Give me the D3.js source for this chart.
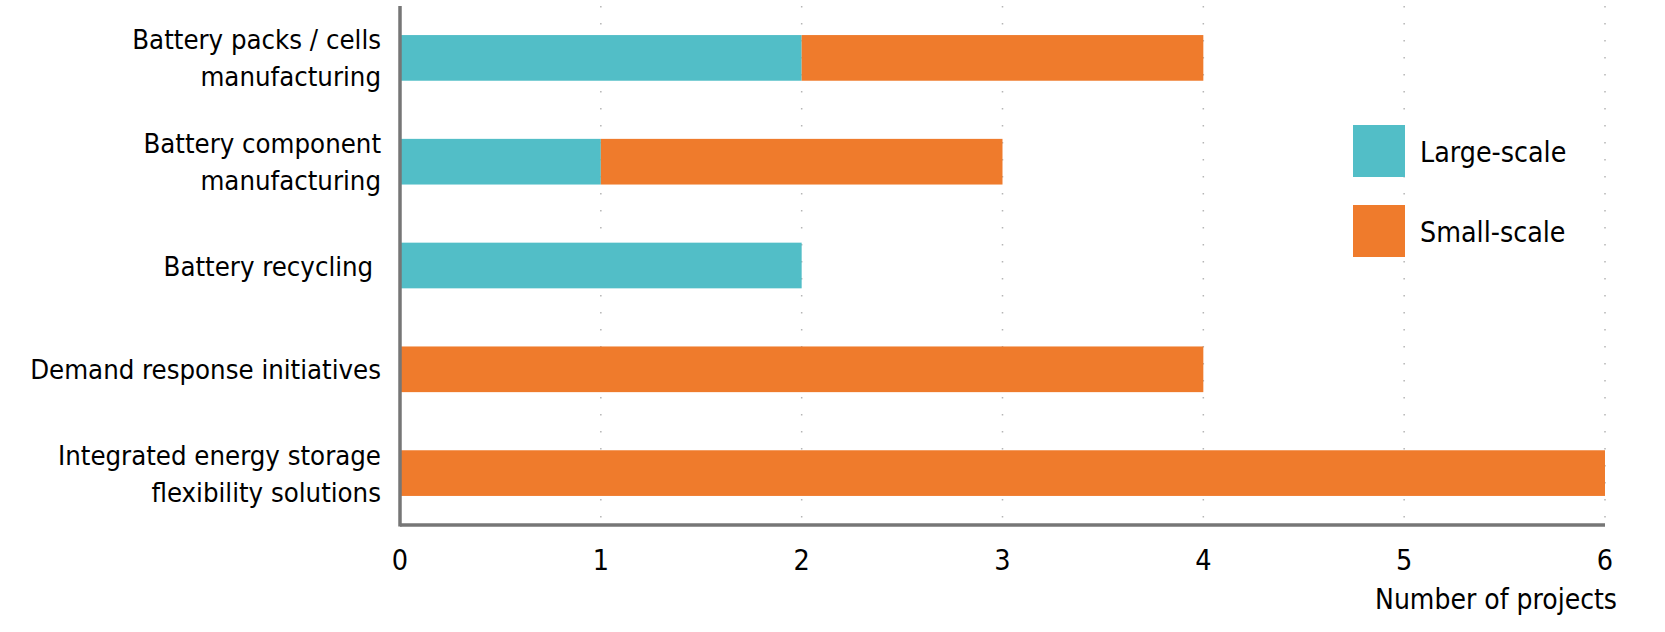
<!DOCTYPE html>
<html>
<head>
<meta charset="utf-8">
<title>Projects by type</title>
<script src="https://d3js.org/d3.v7.min.js"></script>
<style>
  body { margin: 0; background: #fff; }
  svg text { font-family: "DejaVu Sans Condensed", "DejaVu Sans", sans-serif; font-stretch: condensed; fill: #000; }
</style>
</head>
<body>
<svg width="1665" height="632"></svg>
<script>
// data
const categories = [
  ["Battery packs / cells", "manufacturing"],
  ["Battery component", "manufacturing"],
  ["Battery recycling "],
  ["Demand response initiatives"],
  ["Integrated energy storage", "flexibility solutions"]
];
const seriesNames = ["Large-scale", "Small-scale"];
const largeScale = [2, 1, 2, 0, 0];
const smallScale = [2, 2, 0, 4, 6];
const xTicks = [0, 1, 2, 3, 4, 5, 6];
const colors = ["#52bec7", "#ef7b2c"];

const svg = d3.select("svg");
const mLeft = 400, mRight = 1605, mTop = 6, mBottom = 525;

const x = d3.scaleLinear().domain([0, 6]).range([mLeft, mRight]);
const y = d3.scaleBand()
  .domain(d3.range(categories.length))
  .range([mTop, mBottom])
  .paddingInner(0.56)
  .paddingOuter(0.28);

// dotted grid
svg.append("g").selectAll("line")
  .data(xTicks.slice(1))
  .join("line")
  .attr("x1", d => x(d)).attr("x2", d => x(d))
  .attr("y1", mTop).attr("y2", mBottom)
  .style("stroke", "#b5b5b5")
  .style("stroke-width", 1.5)
  .style("stroke-dasharray", "1.5,15.5");

// stacked bars
const rows = categories.map((c, i) => ({ i: i, large: largeScale[i], small: smallScale[i] }));
const stack = d3.stack().keys(["large", "small"])(rows);

svg.append("g").selectAll("g")
  .data(stack)
  .join("g")
  .style("fill", (d, k) => colors[k])
  .selectAll("rect")
  .data(d => d.filter(s => s[1] - s[0] > 0))
  .join("rect")
  .attr("x", d => x(d[0]))
  .attr("width", d => x(d[1]) - x(d[0]))
  .attr("y", d => y(d.data.i))
  .attr("height", y.bandwidth());

// axes lines
svg.append("line")
  .attr("x1", mLeft).attr("x2", mLeft)
  .attr("y1", mTop).attr("y2", mBottom + 1.5)
  .style("stroke", "#767676").style("stroke-width", 3.5);
svg.append("line")
  .attr("x1", mLeft).attr("x2", mRight)
  .attr("y1", mBottom).attr("y2", mBottom)
  .style("stroke", "#767676").style("stroke-width", 3.5);

// x tick labels
svg.append("g").selectAll("text")
  .data(xTicks)
  .join("text")
  .attr("x", d => x(d))
  .attr("y", 570)
  .attr("text-anchor", "middle")
  .style("font-size", "28.5px")
  .text(d => d);

svg.append("text")
  .attr("x", 1617).attr("y", 609)
  .attr("text-anchor", "end")
  .style("font-size", "28px")
  .text("Number of projects");

// category labels
const lineH = 37;
svg.append("g").selectAll("text")
  .data(categories)
  .join("text")
  .attr("text-anchor", "end")
  .style("font-size", "27.3px")
  .each(function(lines, i) {
    const cy = y(i) + y.bandwidth() / 2;
    const y0 = cy - (lines.length - 1) * lineH / 2 + 10;
    d3.select(this).selectAll("tspan")
      .data(lines)
      .join("tspan")
      .attr("x", 381)
      .attr("y", (l, j) => y0 + j * lineH)
      .style("white-space", "pre")
      .text(l => l);
  });

// legend
const legend = svg.append("g").selectAll("g")
  .data(seriesNames)
  .join("g")
  .attr("transform", (d, k) => `translate(1353, ${125 + k * 80})`);
legend.append("rect")
  .attr("width", 52).attr("height", 52)
  .style("fill", (d, k) => colors[k]);
legend.append("text")
  .attr("x", 67).attr("y", 37)
  .style("font-size", "28.3px")
  .text(d => d);
</script>
</body>
</html>
